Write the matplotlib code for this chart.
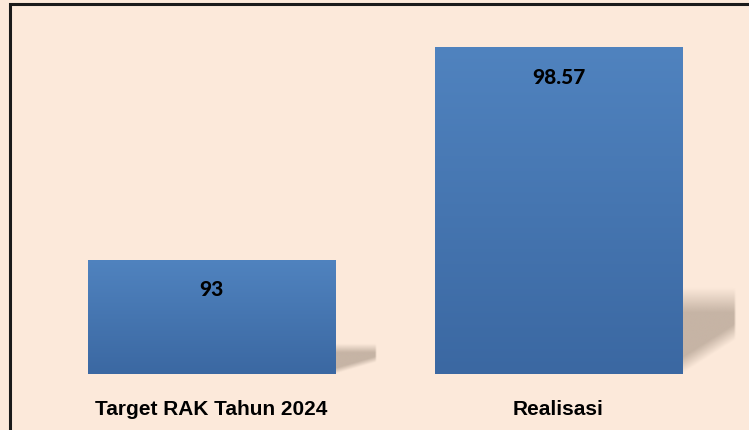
import matplotlib
matplotlib.use("Agg")
import matplotlib.pyplot as plt
import numpy as np
from matplotlib.colors import LinearSegmentedColormap, to_rgb
from matplotlib.patches import Rectangle

categories = ["Target RAK Tahun 2024", "Realisasi"]
values = [93, 98.57]
value_labels = ["93", "98.57"]
baseline = 90

bg = "#FCE9DA"
top_color = "#5083BF"
bottom_color = "#3B68A2"
shadow_color = "#C6B4A5"
bar_width = 0.712
px_per_unit = 38.2

fig = plt.figure(figsize=(7.49, 4.31), dpi=100, facecolor=bg)
ax = fig.add_axes([38 / 749, 55.5 / 431, 694 / 749, 366 / 431])
ax.set_facecolor(bg)
ymax = baseline + 366 / px_per_unit

cmap = LinearSegmentedColormap.from_list("barfill", [bottom_color, top_color])
grad = np.linspace(1, 0, 256).reshape(-1, 1)


def clip01(a):
    return np.clip(a, 0, 1)


for i, v in enumerate(values):
    h = v - baseline
    x0 = i - bar_width / 2
    x1 = i + bar_width / 2

    # soft shadow at the lower right corner of the bar
    sw = min(max(0.04 * h, 0.105), 0.155)
    sh = 0.25 * h
    xs = np.linspace(x1, x1 + sw * 1.05, 120)
    ys = np.linspace(baseline, baseline + sh * 1.25, 160)
    X, Y = np.meshgrid(xs, ys)
    u = (X - x1) / sw
    w = (Y - baseline) / sh
    alpha = clip01((1.05 - w) / 0.3) * clip01((1 - u) / 0.04) * clip01((w - 0.42 * u) / 0.2)
    rgba = np.zeros(X.shape + (4,))
    rgba[..., :3] = to_rgb(shadow_color)
    rgba[..., 3] = alpha
    ax.imshow(rgba, origin="lower", aspect="auto",
              extent=[xs[0], xs[-1], ys[0], ys[-1]], zorder=1, interpolation="bilinear",
              clip_on=False)

    ax.bar(i, h, bottom=baseline, width=bar_width, color="none", zorder=2)
    img = ax.imshow(grad, cmap=cmap, aspect="auto", extent=[x0, x1, baseline, v],
                    zorder=2, interpolation="bicubic")
    img.set_clip_path(Rectangle((x0, baseline), bar_width, h, transform=ax.transData))

    ax.text(i, v - 0.76, value_labels[i], ha="center", va="center",
            fontsize=15, fontweight=900, color="black", family="Lato", zorder=3)

ax.set_xlim(-0.5, 1.5)
ax.set_ylim(baseline, ymax)
ax.set_xticks(range(len(categories)))
ax.set_xticklabels(categories, fontsize=15, fontweight="bold",
                   family=["Liberation Sans Narrow", "Liberation Sans"])
ax.tick_params(axis="x", length=0, pad=18)
ax.set_yticks([])
for s in ax.spines.values():
    s.set_visible(False)

# outer frame (only top/left visible in the original crop)
fig.patches.append(Rectangle((10 / 749, -0.05), 1.0, 1 - 5 / 431 + 0.05,
                             transform=fig.transFigure, facecolor="none",
                             edgecolor="#1a1a1a", linewidth=2.2))

fig.savefig("out.png", dpi=100, facecolor=bg)
